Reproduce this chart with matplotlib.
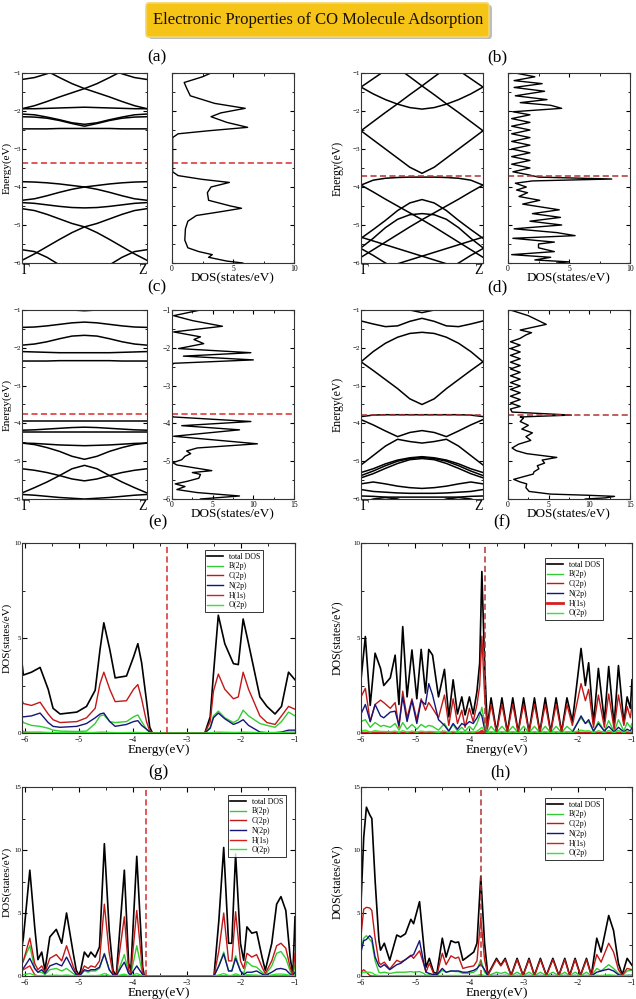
import matplotlib
matplotlib.use("Agg")
import matplotlib.pyplot as plt
from matplotlib.patches import FancyBboxPatch
from matplotlib.ticker import MultipleLocator

plt.rcParams['font.family'] = ['Liberation Serif', 'DejaVu Serif']

# ---------------- data ----------------
TITLE = "Electronic Properties of CO Molecule Adsorption"
K_PATH = [0.0, 0.1, 0.2, 0.3, 0.4, 0.5, 0.6, 0.7, 0.8, 0.9, 1.0]
K_LABELS = ["\u0393", "Z"]
FERMI = {"a": -3.37, "b": -3.70, "c": -3.75, "d": -3.78,
         "e": -3.37, "f": -3.72, "g": -3.75, "h": -3.78}

BANDS_A = [
    [-1.17, -1.12, -1.02, -0.90, -0.80, -0.75, -0.80, -0.90, -1.02, -1.12, -1.17],
    [-1.94, -1.86, -1.75, -1.63, -1.52, -1.41, -1.28, -1.12, -0.95, -0.80, -0.70],
    [-0.70, -0.80, -0.95, -1.12, -1.28, -1.41, -1.52, -1.63, -1.75, -1.86, -1.94],
    [-1.94, -1.94, -1.93, -1.92, -1.91, -1.90, -1.91, -1.92, -1.93, -1.94, -1.94],
    [-2.08, -2.10, -2.16, -2.23, -2.31, -2.35, -2.31, -2.23, -2.16, -2.10, -2.08],
    [-2.15, -2.16, -2.19, -2.25, -2.33, -2.40, -2.33, -2.25, -2.19, -2.16, -2.15],
    [-2.47, -2.47, -2.47, -2.46, -2.46, -2.46, -2.46, -2.46, -2.47, -2.47, -2.47],
    [-3.86, -3.87, -3.89, -3.92, -3.96, -4.00, -4.06, -4.14, -4.23, -4.31, -4.35],
    [-4.35, -4.31, -4.23, -4.14, -4.06, -4.00, -3.96, -3.92, -3.89, -3.87, -3.86],
    [-4.41, -4.43, -4.47, -4.51, -4.54, -4.55, -4.54, -4.51, -4.47, -4.43, -4.41],
    [-4.57, -4.62, -4.72, -4.84, -4.96, -5.05, -5.20, -5.38, -5.57, -5.76, -5.93],
    [-5.93, -5.76, -5.57, -5.38, -5.20, -5.05, -4.96, -4.84, -4.72, -4.62, -4.57],
    [-5.65, -5.70, -5.85, -6.05, -6.20, -6.25, -6.20, -6.05, -5.85, -5.70, -5.65],
]
BANDS_B = [
    [-2.52, -2.28, -2.04, -1.81, -1.57, -1.34, -1.10, -0.87, -0.65, -0.45, -0.30],
    [-0.30, -0.45, -0.65, -0.87, -1.10, -1.34, -1.57, -1.81, -2.04, -2.28, -2.52],
    [-1.37, -1.55, -1.70, -1.82, -1.91, -1.95, -1.91, -1.82, -1.70, -1.55, -1.37],
    [-1.37, -1.15, -0.93, -0.72, -0.55, -0.50, -0.55, -0.72, -0.93, -1.15, -1.37],
    [-2.52, -2.76, -3.00, -3.24, -3.48, -3.64, -3.48, -3.24, -3.00, -2.76, -2.52],
    [-3.95, -3.82, -3.77, -3.75, -3.74, -3.74, -3.74, -3.75, -3.77, -3.82, -3.95],
    [-3.95, -4.13, -4.32, -4.50, -4.68, -4.86, -5.05, -5.25, -5.45, -5.65, -5.85],
    [-5.85, -5.65, -5.45, -5.25, -5.05, -4.86, -4.68, -4.50, -4.32, -4.13, -3.95],
    [-5.35, -5.12, -4.88, -4.62, -4.42, -4.33, -4.42, -4.62, -4.88, -5.12, -5.35],
    [-5.60, -5.35, -5.07, -4.85, -4.73, -4.70, -4.73, -4.85, -5.07, -5.35, -5.60],
    [-5.32, -5.42, -5.52, -5.62, -5.72, -5.82, -5.92, -6.02, -6.12, -6.22, -6.32],
    [-6.32, -6.22, -6.12, -6.02, -5.92, -5.82, -5.72, -5.62, -5.52, -5.42, -5.32],
    [-5.62, -5.80, -6.00, -6.15, -6.25, -6.30, -6.25, -6.15, -6.00, -5.80, -5.62],
]
BANDS_C = [
    [-0.80, -0.85, -0.90, -0.95, -1.00, -1.02, -1.00, -0.95, -0.90, -0.85, -0.80],
    [-1.46, -1.45, -1.42, -1.38, -1.34, -1.32, -1.34, -1.38, -1.42, -1.45, -1.46],
    [-1.93, -1.90, -1.84, -1.76, -1.69, -1.67, -1.69, -1.76, -1.84, -1.90, -1.93],
    [-2.10, -2.11, -2.12, -2.13, -2.13, -2.13, -2.13, -2.13, -2.12, -2.11, -2.10],
    [-2.35, -2.35, -2.35, -2.34, -2.34, -2.34, -2.34, -2.34, -2.35, -2.35, -2.35],
    [-3.94, -3.94, -3.94, -3.94, -3.94, -3.94, -3.94, -3.94, -3.94, -3.94, -3.94],
    [-4.18, -4.17, -4.15, -4.13, -4.11, -4.10, -4.11, -4.13, -4.15, -4.17, -4.18],
    [-4.22, -4.22, -4.22, -4.22, -4.22, -4.22, -4.22, -4.22, -4.22, -4.22, -4.22],
    [-4.52, -4.53, -4.55, -4.57, -4.58, -4.59, -4.58, -4.57, -4.55, -4.53, -4.52],
    [-4.52, -4.56, -4.64, -4.74, -4.87, -4.95, -4.87, -4.74, -4.64, -4.56, -4.52],
    [-5.20, -5.24, -5.30, -5.38, -5.47, -5.52, -5.47, -5.38, -5.30, -5.24, -5.20],
    [-5.84, -5.70, -5.55, -5.38, -5.20, -5.11, -5.20, -5.38, -5.55, -5.70, -5.84],
    [-5.88, -5.90, -5.93, -5.96, -5.98, -6.00, -5.98, -5.96, -5.93, -5.90, -5.88],
]
BANDS_D = [
    [-0.80, -0.85, -0.90, -0.95, -1.00, -1.07, -1.00, -0.95, -0.90, -0.85, -0.80],
    [-1.29, -1.37, -1.44, -1.42, -1.30, -1.22, -1.30, -1.42, -1.44, -1.37, -1.29],
    [-2.37, -2.10, -1.88, -1.72, -1.62, -1.59, -1.62, -1.72, -1.88, -2.10, -2.37],
    [-2.37, -2.60, -2.84, -3.08, -3.35, -3.50, -3.35, -3.08, -2.84, -2.60, -2.37],
    [-3.82, -3.78, -3.77, -3.77, -3.77, -3.77, -3.77, -3.77, -3.77, -3.78, -3.82],
    [-3.90, -4.04, -4.20, -4.35, -4.24, -4.19, -4.24, -4.35, -4.20, -4.04, -3.90],
    [-5.10, -4.85, -4.60, -4.42, -4.48, -4.52, -4.48, -4.42, -4.60, -4.85, -5.10],
    [-5.30, -5.20, -5.07, -4.97, -4.91, -4.88, -4.91, -4.97, -5.07, -5.20, -5.30],
    [-5.38, -5.26, -5.12, -5.00, -4.93, -4.90, -4.93, -5.00, -5.12, -5.26, -5.38],
    [-5.44, -5.33, -5.19, -5.06, -4.96, -4.93, -4.96, -5.06, -5.19, -5.33, -5.44],
    [-5.60, -5.55, -5.60, -5.66, -5.70, -5.72, -5.70, -5.66, -5.60, -5.55, -5.60],
    [-5.75, -5.80, -5.82, -5.84, -5.85, -5.85, -5.85, -5.84, -5.82, -5.80, -5.75],
    [-5.92, -5.93, -5.95, -5.95, -5.95, -5.95, -5.95, -5.95, -5.95, -5.93, -5.92],
    [-6.10, -6.00, -5.96, -6.00, -6.10, -6.20, -6.10, -6.00, -5.96, -6.00, -6.10],
]

# total DOS next to the band structures (energy, DOS)
E_DOS_A = [-1.0, -1.1, -1.25, -1.4, -1.6, -1.8, -1.93, -2.05, -2.15, -2.3,
           -2.43, -2.52, -2.6, -2.7, -3.6, -3.7, -3.8, -3.88, -4.0, -4.15,
           -4.35, -4.5, -4.56, -4.65, -4.75, -4.9, -5.1, -5.4, -5.6, -5.7,
           -5.78, -5.85, -5.95, -6.0]
DOS_A = [3.2, 2.5, 1.0, 1.2, 1.5, 3.5, 6.0, 4.0, 3.2, 4.5,
         6.2, 3.0, 0.5, 0.05, 0.05, 0.5, 2.5, 4.7, 3.2, 2.9,
         3.0, 4.8, 5.7, 4.0, 2.0, 1.3, 1.1, 1.05, 1.3, 2.2,
         3.3, 3.0, 4.5, 5.8]
E_DOS_B = [-1.0, -1.1, -1.2, -1.28, -1.38, -1.48, -1.6, -1.7, -1.78, -1.85,
           -1.93, -2.02, -2.1, -2.2, -2.3, -2.4, -2.5, -2.6, -2.7, -2.8,
           -2.9, -3.0, -3.1, -3.2, -3.3, -3.4, -3.5, -3.6, -3.68, -3.74,
           -3.79, -3.84, -3.9, -4.0, -4.08, -4.15, -4.25, -4.35, -4.45, -4.6,
           -4.7, -4.8, -4.9, -5.0, -5.1, -5.2, -5.28, -5.35, -5.45, -5.5,
           -5.6, -5.7, -5.78, -5.85, -5.92, -5.97, -6.0]
DOS_B = [0.6, 2.2, 0.5, 2.8, 0.5, 3.0, 0.6, 3.2, 1.0, 3.5,
         4.4, 0.4, 1.8, 0.3, 1.8, 0.3, 1.8, 0.3, 1.8, 0.3,
         1.8, 0.3, 1.8, 0.3, 1.8, 0.3, 1.8, 0.4, 1.7, 2.5,
         8.5, 2.0, 0.6, 1.5, 0.7, 1.6, 0.9, 2.6, 1.2, 4.2,
         2.0, 4.3, 1.8, 4.4, 0.5, 4.0, 5.5, 0.4, 3.8, 2.5,
         2.5, 3.8, 0.3, 3.5, 2.2, 5.0, 4.0]
E_DOS_C = [-1.0, -1.15, -1.28, -1.43, -1.58, -1.71, -1.78, -1.89, -2.02, -2.13,
           -2.22, -2.32, -2.41, -2.46, -3.8, -3.83, -3.95, -4.06, -4.17, -4.34,
           -4.54, -4.65, -4.73, -4.8, -4.87, -4.96, -5.04, -5.1, -5.25, -5.3,
           -5.35, -5.45, -5.53, -5.6, -5.67, -5.75, -5.83, -5.92, -6.0]
DOS_C = [3.5, 0.2, 2.5, 6.2, 0.2, 3.5, 2.7, 3.9, 0.8, 9.7,
         1.4, 10.0, 0.2, 0.0, 0.0, 0.2, 9.7, 1.2, 8.3, 0.2,
         10.5, 3.1, 1.8, 2.3, 1.6, 1.2, 0.1, 0.6, 4.9, 2.5,
         3.5, 3.3, 1.9, 0.4, 1.6, 0.6, 3.1, 8.3, 3.5]
E_DOS_D = [-1.0, -1.15, -1.38, -1.53, -1.6, -1.66, -1.75, -1.84, -1.93, -2.02,
           -2.11, -2.2, -2.29, -2.38, -2.47, -2.56, -2.65, -2.74, -2.83, -2.92,
           -3.01, -3.1, -3.19, -3.28, -3.37, -3.46, -3.55, -3.62, -3.7, -3.78,
           -3.83, -3.86, -3.95, -4.05, -4.15, -4.25, -4.35, -4.45, -4.55, -4.65,
           -4.72, -4.8, -4.9, -4.97, -5.05, -5.12, -5.2, -5.28, -5.34, -5.48,
           -5.55, -5.6, -5.7, -5.8, -5.87, -5.9, -5.93, -5.97, -6.0]
DOS_D = [0.3, 2.5, 4.7, 1.5, 2.9, 2.2, 1.5, 0.3, 1.5, 0.3,
         1.5, 0.3, 1.5, 0.3, 1.5, 0.3, 1.5, 0.3, 1.5, 0.3,
         1.5, 0.3, 1.5, 0.3, 1.5, 0.3, 1.5, 0.3, 0.5, 7.8,
         1.5, 1.9, 1.5, 2.5, 1.7, 3.0, 2.2, 2.8, 1.3, 0.5,
         1.0, 2.3, 6.0, 4.2, 4.5, 3.6, 3.8, 3.2, 3.1, 0.7,
         1.5, 2.3, 2.2, 2.6, 5.2, 9.7, 13.1, 12.0, 9.5]

# projected DOS panels
PDOS_NAMES = ["total DOS", "B(2p)", "C(2p)", "N(2p)", "H(1s)", "O(2p)"]

E_E = [-6.14, -6.03, -5.88, -5.72, -5.57, -5.48, -5.35, -5.04, -4.86, -4.7,
       -4.61, -4.54, -4.43, -4.33, -4.12, -3.99, -3.91, -3.84, -3.75, -3.69,
       -3.64, -2.67, -2.57, -2.51, -2.42, -2.3, -2.14, -2.05, -1.96, -1.86,
       -1.65, -1.52, -1.37, -1.25, -1.12, -1.0]
TOT_E = [5.9, 3.05, 3.2, 3.45, 2.3, 1.3, 1.0, 1.1, 1.4, 2.25,
         4.4, 5.8, 4.4, 2.9, 3.0, 4.0, 4.7, 3.7, 1.7, 0.3,
         0.0, 0.0, 0.85, 3.1, 6.2, 4.7, 3.65, 3.6, 6.0, 4.7,
         1.9, 1.4, 1.0, 1.4, 3.2, 2.8]
B_E = [1.2, 0.55, 0.4, 0.35, 0.25, 0.15, 0.1, 0.08, 0.1, 0.5,
       0.9, 0.95, 0.6, 0.55, 0.6, 0.85, 0.95, 0.6, 0.2, 0.05,
       0.0, 0.0, 0.3, 0.9, 1.15, 0.8, 0.55, 0.7, 1.2, 0.9,
       0.5, 0.4, 0.3, 0.6, 1.1, 0.9]
C_E = [2.3, 1.55, 1.45, 1.62, 1.0, 0.7, 0.55, 0.6, 0.8, 1.3,
       2.6, 3.2, 2.3, 1.65, 1.7, 2.3, 2.55, 1.8, 0.6, 0.1,
       0.0, 0.0, 0.6, 2.2, 3.1, 2.3, 1.8, 1.9, 3.2, 2.3,
       0.9, 0.55, 0.45, 0.9, 1.4, 1.25]
N_E = [1.05, 0.85, 0.9, 1.05, 0.55, 0.35, 0.3, 0.35, 0.5, 0.8,
       1.0, 1.05, 0.6, 0.35, 0.45, 0.6, 0.65, 0.4, 0.2, 0.05,
       0.0, 0.0, 0.25, 0.8, 1.05, 0.75, 0.45, 0.55, 0.7, 0.4,
       0.05, 0.02, 0.02, 0.05, 0.15, 0.15]
H_E = [0.6, 0.05, 0.0, 0.0, 0.0, 0.0, 0.0, 0.0, 0.0, 0.0,
       0.0, 0.0, 0.0, 0.0, 0.0, 0.0, 0.0, 0.0, 0.0, 0.0,
       0.0, 0.0, 0.0, 0.0, 0.0, 0.0, 0.0, 0.0, 0.0, 0.0,
       0.0, 0.0, 0.0, 0.0, 0.0, 0.0]
O_E = [0.15, 0.05, 0.05, 0.05, 0.03, 0.02, 0.02, 0.02, 0.02, 0.03,
       0.05, 0.05, 0.03, 0.02, 0.02, 0.03, 0.03, 0.02, 0.01, 0.0,
       0.0, 0.0, 0.01, 0.03, 0.05, 0.04, 0.03, 0.03, 0.05, 0.04,
       0.02, 0.02, 0.02, 0.02, 0.05, 0.05]

E_F = [-6.0, -5.92, -5.83, -5.74, -5.64, -5.58, -5.46, -5.37, -5.3, -5.23,
       -5.15, -5.06, -4.97, -4.89, -4.81, -4.75, -4.68, -4.57, -4.46, -4.38,
       -4.3, -4.22, -4.14, -4.08, -4.0, -3.93, -3.86, -3.81, -3.77, -3.72,
       -3.67, -3.6, -3.5, -3.4, -3.3, -3.2, -3.1, -3.0, -2.9, -2.8,
       -2.7, -2.6, -2.5, -2.4, -2.3, -2.2, -2.1, -1.94, -1.86, -1.8,
       -1.71, -1.62, -1.51, -1.43, -1.33, -1.25, -1.15, -1.09, -1.03, -1.0]
TOT_F = [2.8, 5.08, 1.45, 4.2, 3.4, 2.5, 2.9, 4.1, 1.5, 5.6,
         1.9, 4.37, 1.8, 4.4, 2.1, 4.4, 4.1, 1.9, 3.35, 0.85,
         2.8, 1.0, 1.9, 0.95, 1.9, 1.0, 2.2, 3.7, 8.5, 3.7,
         0.3, 1.85, 0.05, 1.85, 0.05, 1.85, 0.05, 1.85, 0.05, 1.85,
         0.05, 1.85, 0.05, 1.85, 0.05, 1.85, 0.6, 4.45, 2.5, 3.7,
         0.5, 3.4, 0.6, 3.5, 0.4, 3.55, 0.5, 1.9, 1.3, 2.8]
B_F = [0.6, 0.7, 0.3, 0.55, 0.35, 0.4, 0.3, 0.5, 0.15, 0.55,
       0.2, 0.45, 0.2, 0.45, 0.3, 0.4, 0.35, 0.15, 0.5, 0.1,
       0.45, 0.1, 0.3, 0.1, 0.35, 0.15, 0.5, 0.9, 1.35, 0.5,
       0.05, 0.35, 0.02, 0.35, 0.02, 0.35, 0.02, 0.35, 0.02, 0.35,
       0.02, 0.35, 0.02, 0.35, 0.02, 0.35, 0.1, 0.8, 0.5, 0.6,
       0.1, 0.6, 0.1, 0.65, 0.05, 0.7, 0.1, 0.55, 0.3, 0.5]
C_F = [1.9, 2.35, 0.6, 1.5, 1.73, 1.6, 1.3, 1.6, 0.3, 2.2,
       0.8, 1.8, 0.7, 1.8, 1.2, 1.6, 1.3, 0.8, 2.0, 0.4,
       1.8, 0.5, 1.2, 0.3, 1.3, 0.6, 1.5, 2.5, 5.1, 2.0,
       0.2, 1.5, 0.03, 1.5, 0.03, 1.5, 0.03, 1.5, 0.03, 1.5,
       0.03, 1.5, 0.03, 1.5, 0.03, 1.5, 0.4, 2.6, 1.7, 2.3,
       0.3, 2.0, 0.3, 2.05, 0.2, 2.0, 0.4, 1.4, 0.8, 1.5]
N_F = [1.0, 1.5, 0.6, 1.5, 0.9, 0.8, 1.1, 1.15, 0.4, 1.9,
       0.6, 1.7, 0.5, 1.7, 1.5, 2.6, 2.0, 0.7, 0.4, 0.1,
       0.5, 0.2, 0.5, 0.4, 0.6, 0.5, 0.8, 1.1, 0.9, 0.2,
       0.0, 0.03, 0.0, 0.03, 0.0, 0.03, 0.0, 0.03, 0.0, 0.03,
       0.0, 0.03, 0.0, 0.03, 0.0, 0.03, 0.02, 0.9, 0.5, 0.7,
       0.1, 0.5, 0.1, 0.35, 0.05, 0.3, 0.05, 0.2, 0.1, 0.3]
H_F = [0.0, 0.0, 0.0, 0.0, 0.0, 0.0, 0.0, 0.0, 0.0, 0.0,
       0.0, 0.0, 0.0, 0.0, 0.0, 0.0, 0.0, 0.0, 0.0, 0.0,
       0.0, 0.0, 0.0, 0.0, 0.0, 0.0, 0.0, 0.02, 0.1, 0.02,
       0.0, 0.0, 0.0, 0.0, 0.0, 0.0, 0.0, 0.0, 0.0, 0.0,
       0.0, 0.0, 0.0, 0.0, 0.0, 0.0, 0.0, 0.0, 0.0, 0.0,
       0.0, 0.0, 0.0, 0.0, 0.0, 0.0, 0.0, 0.0, 0.0, 0.0]
O_F = [0.1, 0.15, 0.05, 0.12, 0.08, 0.08, 0.06, 0.1, 0.03, 0.12,
       0.04, 0.1, 0.04, 0.1, 0.06, 0.08, 0.07, 0.03, 0.1, 0.02,
       0.09, 0.02, 0.06, 0.02, 0.07, 0.03, 0.1, 0.2, 0.3, 0.1,
       0.01, 0.06, 0.0, 0.06, 0.0, 0.06, 0.0, 0.06, 0.0, 0.06,
       0.0, 0.06, 0.0, 0.06, 0.0, 0.06, 0.02, 0.15, 0.1, 0.12,
       0.02, 0.12, 0.02, 0.13, 0.01, 0.14, 0.02, 0.1, 0.06, 0.1]

E_G = [-6.12, -6.03, -5.91, -5.82, -5.76, -5.69, -5.63, -5.54, -5.42, -5.32,
       -5.23, -5.11, -5.05, -4.99, -4.9, -4.83, -4.78, -4.7, -4.62, -4.53,
       -4.44, -4.37, -4.31, -4.22, -4.16, -4.08, -4.04, -3.93, -3.82, -3.79,
       -2.5, -2.41, -2.32, -2.23, -2.17, -2.1, -2.01, -1.95, -1.89, -1.8,
       -1.71, -1.61, -1.55, -1.43, -1.34, -1.26, -1.17, -1.09, -1.04, -1.0]
TOT_G = [0.6, 3.0, 8.4, 3.9, 1.3, 1.9, 0.45, 3.1, 3.7, 2.6,
         5.0, 1.9, 0.45, 0.0, 1.9, 1.5, 1.9, 1.5, 2.3, 10.5,
         3.6, 0.45, 0.0, 5.0, 8.4, 1.0, 0.45, 9.5, 0.7, 0.0,
         0.0, 4.4, 10.2, 2.6, 2.6, 9.7, 2.6, 1.25, 3.9, 3.4,
         3.5, 1.5, 0.45, 2.6, 5.7, 6.3, 5.2, 1.5, 0.05, 4.7]
B_G = [0.3, 1.2, 2.4, 0.6, 0.3, 0.3, 0.1, 0.5, 0.6, 0.4,
       0.6, 0.2, 0.05, 0.0, 0.4, 0.3, 0.4, 0.4, 0.6, 1.8,
       0.5, 0.1, 0.0, 1.0, 1.7, 0.2, 0.1, 2.4, 0.1, 0.0,
       0.0, 0.8, 1.9, 0.4, 0.4, 1.6, 0.4, 0.2, 1.15, 0.8,
       0.7, 0.3, 0.1, 0.8, 1.8, 1.95, 1.4, 0.4, 0.0, 0.9]
C_G = [0.3, 1.2, 3.0, 1.0, 0.5, 0.8, 0.3, 1.4, 1.7, 1.2,
       2.4, 0.8, 0.2, 0.0, 0.8, 0.6, 0.8, 0.7, 1.2, 5.7,
       1.8, 0.2, 0.0, 2.8, 4.7, 0.5, 0.2, 5.2, 0.3, 0.0,
       0.0, 2.0, 5.0, 1.2, 1.2, 5.1, 1.2, 0.6, 1.8, 1.5,
       1.7, 0.7, 0.2, 1.2, 2.4, 2.6, 2.2, 0.7, 0.05, 1.8]
N_G = [0.2, 0.6, 1.4, 0.6, 0.3, 0.5, 0.2, 0.8, 1.0, 0.8,
       1.5, 0.5, 0.1, 0.0, 0.5, 0.4, 0.5, 0.5, 0.7, 1.75,
       0.5, 0.1, 0.0, 0.7, 1.1, 0.2, 0.1, 0.8, 0.1, 0.0,
       0.0, 0.8, 1.75, 0.4, 0.4, 1.4, 0.4, 0.1, 0.3, 0.3,
       0.4, 0.15, 0.05, 0.3, 0.55, 0.6, 0.5, 0.15, 0.0, 0.3]
H_G = [0.2, 0.5, 0.8, 0.1, 0.0, 0.0, 0.0, 0.0, 0.0, 0.0,
       0.0, 0.0, 0.0, 0.0, 0.0, 0.0, 0.0, 0.0, 0.0, 0.0,
       0.0, 0.0, 0.0, 0.0, 0.0, 0.0, 0.0, 0.0, 0.0, 0.0,
       0.0, 0.0, 0.0, 0.0, 0.0, 0.0, 0.0, 0.0, 0.0, 0.0,
       0.0, 0.0, 0.0, 0.0, 0.0, 0.0, 0.0, 0.0, 0.0, 0.0]
O_G = [0.05, 0.1, 0.2, 0.05, 0.02, 0.03, 0.0, 0.05, 0.06, 0.04,
       0.08, 0.02, 0.0, 0.0, 0.04, 0.03, 0.04, 0.03, 0.05, 0.2,
       0.05, 0.0, 0.0, 0.1, 0.15, 0.02, 0.0, 0.2, 0.0, 0.0,
       0.0, 0.08, 0.2, 0.04, 0.04, 0.18, 0.04, 0.02, 0.1, 0.08,
       0.07, 0.03, 0.0, 0.08, 0.15, 0.16, 0.12, 0.04, 0.0, 0.1]

E_H = [-6.0, -5.95, -5.9, -5.84, -5.8, -5.74, -5.67, -5.64, -5.57, -5.47,
       -5.34, -5.27, -5.18, -5.08, -5.03, -4.92, -4.84, -4.8, -4.74, -4.66,
       -4.6, -4.5, -4.43, -4.34, -4.26, -4.2, -4.12, -4.04, -3.92, -3.86,
       -3.79, -3.72, -3.66, -3.5, -3.42, -3.34, -3.23, -3.12, -3.01, -2.9,
       -2.8, -2.69, -2.58, -2.46, -2.35, -2.24, -2.15, -2.05, -1.95, -1.84,
       -1.75, -1.65, -1.57, -1.43, -1.34, -1.25, -1.18, -1.09, -1.0]
TOT_H = [5.75, 11.0, 13.4, 12.8, 12.5, 7.6, 2.85, 2.05, 2.6, 1.25,
         3.25, 3.1, 3.35, 4.5, 4.15, 5.9, 2.3, 0.7, 1.4, 0.3,
         0.2, 3.0, 1.5, 2.8, 2.65, 2.7, 1.25, 1.5, 1.9, 2.6,
         7.9, 2.6, 0.1, 1.4, 0.85, 1.4, 0.05, 1.4, 0.05, 1.4,
         0.05, 1.4, 0.05, 1.4, 0.05, 1.4, 0.05, 1.4, 0.05, 1.4,
         0.05, 3.0, 1.9, 4.8, 3.6, 1.0, 0.1, 1.4, 0.85]
B_H = [2.0, 3.0, 3.2, 2.9, 2.7, 1.2, 0.3, 0.25, 0.3, 0.2,
       0.3, 0.3, 0.3, 0.35, 0.3, 0.35, 0.2, 0.05, 0.1, 0.05,
       0.05, 0.45, 0.3, 0.4, 0.35, 0.35, 0.2, 0.2, 0.3, 0.5,
       1.3, 0.3, 0.02, 0.3, 0.2, 0.3, 0.02, 0.3, 0.02, 0.3,
       0.02, 0.3, 0.02, 0.3, 0.02, 0.3, 0.02, 0.3, 0.02, 0.3,
       0.02, 0.6, 0.4, 0.9, 0.6, 0.2, 0.02, 0.4, 0.45]
C_H = [3.2, 5.3, 5.45, 5.4, 5.2, 3.0, 1.1, 0.9, 1.1, 0.55,
       1.25, 1.1, 1.3, 1.65, 1.4, 2.0, 0.9, 0.3, 1.0, 0.2,
       0.1, 1.8, 0.9, 1.6, 1.4, 1.5, 0.6, 0.7, 0.8, 1.2,
       4.6, 1.3, 0.05, 1.3, 0.8, 1.3, 0.03, 1.3, 0.03, 1.3,
       0.03, 1.3, 0.03, 1.3, 0.03, 1.3, 0.03, 1.3, 0.03, 1.3,
       0.03, 1.7, 1.1, 2.6, 1.9, 0.5, 0.05, 0.6, 0.5]
N_H = [1.9, 2.8, 2.9, 3.2, 3.0, 1.5, 0.8, 0.7, 0.9, 0.5,
       0.9, 1.0, 1.3, 1.6, 1.7, 2.8, 1.0, 0.3, 0.2, 0.1,
       0.1, 0.6, 0.3, 0.4, 0.4, 0.4, 0.3, 0.3, 0.45, 0.6,
       0.95, 0.5, 0.02, 0.05, 0.03, 0.05, 0.0, 0.05, 0.0, 0.05,
       0.0, 0.05, 0.0, 0.05, 0.0, 0.05, 0.0, 0.05, 0.0, 0.05,
       0.0, 0.3, 0.4, 0.55, 0.4, 0.1, 0.02, 0.05, 0.05]
H_H = [0.3, 0.5, 0.3, 0.05, 0.0, 0.0, 0.0, 0.0, 0.0, 0.0,
       0.0, 0.0, 0.0, 0.0, 0.0, 0.0, 0.0, 0.0, 0.0, 0.0,
       0.0, 0.0, 0.0, 0.0, 0.0, 0.0, 0.0, 0.0, 0.0, 0.0,
       0.0, 0.0, 0.0, 0.0, 0.0, 0.0, 0.0, 0.0, 0.0, 0.0,
       0.0, 0.0, 0.0, 0.0, 0.0, 0.0, 0.0, 0.0, 0.0, 0.0,
       0.0, 0.0, 0.0, 0.0, 0.0, 0.0, 0.0, 0.0, 0.0]
O_H = [0.2, 0.3, 0.3, 0.3, 0.25, 0.1, 0.03, 0.03, 0.03, 0.02,
       0.03, 0.03, 0.03, 0.04, 0.03, 0.04, 0.02, 0.0, 0.01, 0.0,
       0.0, 0.05, 0.03, 0.04, 0.04, 0.04, 0.02, 0.02, 0.03, 0.05,
       0.13, 0.03, 0.0, 0.03, 0.02, 0.03, 0.0, 0.03, 0.0, 0.03,
       0.0, 0.03, 0.0, 0.03, 0.0, 0.03, 0.0, 0.03, 0.0, 0.03,
       0.0, 0.06, 0.04, 0.09, 0.06, 0.02, 0.0, 0.04, 0.05]

# ---------------- style ----------------
W, H = 636, 999
COLORS = ["#000000", "#33cc33", "#c01818", "#14147a", "#d42020", "#2ee82e"]
RED1 = "#d92b2b"
RED2 = "#b03434"
SPINE = "#333333"


def rect(x0, y0, x1, y1):
    return [x0 / W, 1 - y1 / H, (x1 - x0) / W, (y1 - y0) / H]


def style_spines(ax):
    for s in ax.spines.values():
        s.set_color(SPINE)
        s.set_linewidth(0.8)


def band_panel(ax, bands, ef, efc, width_px, label_px, label_fs=8.5):
    for b in bands:
        ax.plot(K_PATH, b, color="black", lw=1.1)
    ax.axhline(ef, color=efc, lw=1.1, ls=(0, (4, 2.2)))
    ax.set_xlim(0, 1)
    ax.set_ylim(-6, -1)
    ax.set_xticks([0, 1])
    ax.set_xticklabels(K_LABELS, fontsize=10)
    ax.get_xticklabels()[0].set_ha("left")
    ax.get_xticklabels()[1].set_ha("right")
    ax.tick_params(axis="x", length=0, pad=0.5)
    ax.yaxis.set_major_locator(MultipleLocator(1))
    ax.yaxis.set_minor_locator(MultipleLocator(0.5))
    ax.tick_params(axis="y", which="both", direction="in", left=True, right=True,
                   labelsize=5, pad=0.5)
    ax.tick_params(axis="y", which="major", length=3)
    ax.tick_params(axis="y", which="minor", length=1.8)
    ax.set_ylabel("Energy(eV)", fontsize=label_fs)
    ax.yaxis.set_label_coords(-label_px / width_px, 0.5)
    style_spines(ax)


def dos_panel(ax, e, d, ef, efc, xmax, ylab):
    ax.plot(d, e, color="black", lw=1.0)
    ax.axhline(ef, color=efc, lw=1.1, ls=(0, (4, 2.2)))
    ax.set_xlim(0, xmax)
    ax.set_ylim(-6, -1)
    ax.xaxis.set_major_locator(MultipleLocator(5))
    ax.xaxis.set_minor_locator(MultipleLocator(2.5))
    ax.yaxis.set_major_locator(MultipleLocator(1))
    ax.yaxis.set_minor_locator(MultipleLocator(0.5))
    ax.tick_params(which="both", direction="in", top=True, right=True,
                   labelsize=5.5, pad=1.2, labelleft=ylab)
    ax.tick_params(which="major", length=3)
    ax.tick_params(which="minor", length=1.8)
    ax.set_xlabel("DOS(states/eV)", fontsize=9.5, labelpad=0)
    style_spines(ax)


def pdos_panel(ax, e, series, ef, efc, ymax, xmin, leg_anchor, width_px,
               label_px, h_lw=1.0, label_fs=8.5):
    for i, (name, vals) in enumerate(zip(PDOS_NAMES, series)):
        lw = 1.2 if i == 0 else 1.0
        if name == "H(1s)":
            lw = h_lw
        ax.plot(e, vals, color=COLORS[i], lw=lw, label=name)
    ax.axvline(ef, color=efc, lw=1.1, ls=(0, (4, 2.2)))
    ax.set_xlim(xmin, -1)
    ax.set_ylim(0, ymax)
    ax.set_xticks([-6, -5, -4, -3, -2, -1])
    ax.xaxis.set_minor_locator(MultipleLocator(0.5))
    ax.yaxis.set_major_locator(MultipleLocator(5))
    ax.yaxis.set_minor_locator(MultipleLocator(2.5))
    ax.tick_params(which="both", direction="in", top=True, right=True,
                   labelsize=5.5, pad=1.0)
    ax.tick_params(axis="y", which="both", labelsize=5, pad=0.6)
    ax.tick_params(axis="x", which="both", pad=2.2)
    ax.tick_params(which="major", length=3.5)
    ax.tick_params(which="minor", length=2)
    ax.set_xlabel("Energy(eV)", fontsize=9.5, labelpad=0)
    ax.set_ylabel("DOS(states/eV)", fontsize=label_fs)
    ax.yaxis.set_label_coords(-label_px / width_px, 0.5)
    leg = ax.legend(loc="upper right", bbox_to_anchor=leg_anchor, fontsize=5.6,
                    frameon=True, fancybox=False, edgecolor="black",
                    handlelength=2.0, handletextpad=0.8, borderpad=0.35,
                    labelspacing=0.22, borderaxespad=0)
    leg.get_frame().set_linewidth(0.7)
    style_spines(ax)


fig = plt.figure(figsize=(W / 100, H / 100), dpi=100)
fig.patch.set_facecolor("white")

# title banner
shadow = FancyBboxPatch((149 / W, 1 - 39 / H), 343 / W, 34 / H,
                        boxstyle="round,pad=0,rounding_size=0.004",
                        transform=fig.transFigure, facecolor="#bdbdbd",
                        edgecolor="none", zorder=0)
banner = FancyBboxPatch((146 / W, 1 - 37 / H), 343 / W, 34 / H,
                        boxstyle="round,pad=0,rounding_size=0.004",
                        transform=fig.transFigure, facecolor="#f6c417",
                        edgecolor="#f3d766", linewidth=1.2, zorder=1)
fig.patches.extend([shadow, banner])
fig.text(318 / W, 1 - 20 / H, TITLE, ha="center", va="center", fontsize=12,
         color="#1a1200", zorder=2)

# panel letters
for lab, x, y in [("(a)", 157, 57), ("(b)", 497, 57), ("(c)", 157, 287),
                  ("(d)", 497, 287), ("(e)", 158, 522), ("(f)", 502, 522),
                  ("(g)", 158, 772), ("(h)", 500, 772)]:
    fig.text(x / W, 1 - y / H, lab, ha="center", va="center", fontsize=12.5)

# band structures + DOS
ax = fig.add_axes(rect(22, 73, 147, 263))
band_panel(ax, BANDS_A, FERMI["a"], RED1, 125, 10, label_fs=8)
ax = fig.add_axes(rect(172, 73, 294, 263))
dos_panel(ax, E_DOS_A, DOS_A, FERMI["a"], RED1, 10, False)

ax = fig.add_axes(rect(361, 73, 483, 263))
band_panel(ax, BANDS_B, FERMI["b"], RED2, 122, 17)
ax = fig.add_axes(rect(508, 73, 630, 263))
dos_panel(ax, E_DOS_B, DOS_B, FERMI["b"], RED2, 10, False)

ax = fig.add_axes(rect(22, 310, 147, 499))
band_panel(ax, BANDS_C, FERMI["c"], RED1, 125, 10, label_fs=8)
ax = fig.add_axes(rect(172, 310, 294, 499))
dos_panel(ax, E_DOS_C, DOS_C, FERMI["c"], RED1, 15, True)

ax = fig.add_axes(rect(361, 310, 483, 499))
band_panel(ax, BANDS_D, FERMI["d"], RED2, 122, 17)
ax = fig.add_axes(rect(508, 310, 630, 499))
dos_panel(ax, E_DOS_D, DOS_D, FERMI["d"], RED2, 15, False)

# projected DOS
ax = fig.add_axes(rect(22, 543, 295, 733))
pdos_panel(ax, E_E, [TOT_E, B_E, C_E, N_E, H_E, O_E], FERMI["e"], RED1,
           10, -6.055, (0.883, 0.963), 273, 10, label_fs=8)
ax = fig.add_axes(rect(361, 543, 632, 733))
pdos_panel(ax, E_F, [TOT_F, B_F, C_F, N_F, H_F, O_F], FERMI["f"], RED2,
           10, -6.0, (0.893, 0.921), 271, 17, h_lw=2.0)
ax = fig.add_axes(rect(22, 787, 295, 976))
pdos_panel(ax, E_G, [TOT_G, B_G, C_G, N_G, H_G, O_G], FERMI["g"], RED1,
           15, -6.055, (0.967, 0.958), 273, 10, label_fs=8)
ax = fig.add_axes(rect(361, 787, 632, 976))
pdos_panel(ax, E_H, [TOT_H, B_H, C_H, N_H, H_H, O_H], FERMI["h"], RED2,
           15, -6.0, (0.893, 0.942), 271, 17)

fig.savefig("out.png", dpi=100)
